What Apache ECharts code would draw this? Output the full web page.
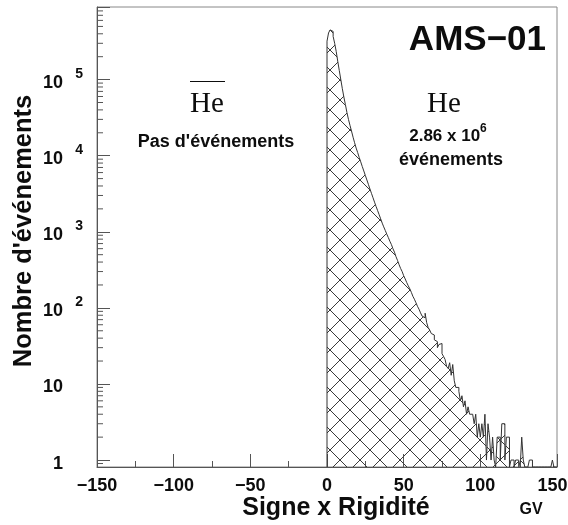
<!DOCTYPE html>
<html><head><meta charset="utf-8">
<script src="https://cdn.jsdelivr.net/npm/echarts@6/dist/echarts.min.js"></script>
<style>html,body{margin:0;padding:0;background:#fff}#c{width:568px;height:525px}</style>
</head><body><div id="c"></div>
<script>
// ---- data ----
const binLow = 0;      // GV, lower edge of the first He bin
const binWidth = 1;    // GV per bin
// He event counts per 1 GV bin, from 0 to 150 GV (0 = empty bin)
const heCounts = [
  320000, 410000, 450000, 430000, 370000, 300000, 235000, 175000, 132000, 100000,
  76000, 59000, 47000, 37000, 30000, 25000, 21000, 17500, 14800, 12600,
  11000, 9500, 8300, 7200, 6300, 5500, 4800, 4200, 3650, 3200,
  2800, 2450, 2150, 1900, 1680, 1480, 1300, 1160, 1040, 930,
  840, 750, 680, 600, 540, 470, 420, 370, 330, 300,
  265, 240, 215, 195, 178, 160, 142, 130, 117, 105,
  96, 86, 78, 74, 85, 64, 55, 51, 46, 44,
  38, 36, 30, 33, 34, 25, 23, 21, 17, 16,
  19, 13, 18, 11, 9, 9, 8, 6, 7, 5,
  6, 4, 5, 4, 4, 4, 3, 4, 2, 3,
  2, 3, 2, 4, 1, 3, 2, 1, 2, 1,
  0, 2, 2, 1, 3, 3, 1, 2, 2, 0,
  1, 1, 0, 1, 1, 1, 0, 2, 1, 0,
  0, 0, 1, 1, 0, 0, 0, 0, 0, 0,
  0, 0, 0, 0, 0, 0, 0, 1, 0, 0
];
// anti-He: no events for negative rigidity
const antiHeCounts = [];
const xTickValues = [-150, -100, -50, 0, 50, 100, 150];
const yMajorExponents = [0, 1, 2, 3, 4, 5];
const titleText = 'AMS\u221201';
const yTitle = "Nombre d'\u00e9v\u00e9nements";
const xTitle = 'Signe x Rigidit\u00e9';
const unitText = 'GV';
const leftLabel = 'He';
const leftNote = "Pas d'\u00e9v\u00e9nements";
const rightLabel = 'He';
const rightNoteMantissa = '2.86 x 10';
const rightNoteExp = '6';
const rightNote2 = '\u00e9v\u00e9nements';

// ---- axis ranges ----
const X_MIN = -150, X_MAX = 150;
const Y_MIN = 0.81, Y_MAX = 9e5;

const SANS = "'Liberation Sans', Arial, Helvetica, sans-serif";
const SERIF = "'Liberation Serif', 'Times New Roman', serif";
const INK = '#0d0d0d';
const AXIS = '#555';

// histogram as step points (empty bins drawn at the axis floor)
const histPoints = [[binLow, Y_MIN]];
heCounts.forEach((c, i) => histPoints.push([binLow + i * binWidth, c > 0 ? c : Y_MIN]));
histPoints.push([binLow + heCounts.length * binWidth, Y_MIN]);

// log minor ticks
const yMinor = [];
for (let k = -1; k <= 6; k++) for (let m = 2; m <= 9; m++) {
  const v = m * Math.pow(10, k);
  if (v > Y_MIN && v < Y_MAX) yMinor.push([X_MIN, v]);
}

function hatchCanvas() {
  const s = 20;
  const c = document.createElement('canvas');
  c.width = s; c.height = s;
  const g = c.getContext('2d');
  g.strokeStyle = '#3a3a3a'; g.lineWidth = 1;
  g.beginPath();
  for (const off of [-s, 0, s]) {
    g.moveTo(off, 0); g.lineTo(off + s, s);
    g.moveTo(off + s, 0); g.lineTo(off, s);
  }
  g.stroke();
  return c;
}

const chart = echarts.init(document.getElementById('c'), null, { renderer: 'canvas' });
chart.setOption({
  animation: false,
  backgroundColor: '#fff',
  grid: { left: 97, right: 11, top: 7, bottom: 58, show: true, borderColor: '#888', borderWidth: 1, outerBoundsMode: 'none', containLabel: false },
  xAxis: {
    type: 'value', min: X_MIN, max: X_MAX, interval: 50,
    axisLine: { onZero: false, lineStyle: { color: AXIS, width: 1 } },
    axisTick: { inside: true, length: 13, lineStyle: { color: AXIS } },
    minorTick: { show: true, splitNumber: 2, length: 6, lineStyle: { color: AXIS } },
    splitLine: { show: false },
    axisLabel: {
      margin: 10, fontSize: 18, fontWeight: 'bold', fontFamily: SANS, color: INK,
      formatter: function (v) {
        if (!xTickValues.includes(v)) return '';
        const t = String(v).replace('-', '\u2212');
        return v === X_MAX ? '{r|' + t + '}' : t;
      },
      rich: { r: { fontSize: 18, fontWeight: 'bold', fontFamily: SANS, color: INK, padding: [0, 9, 0, 0] } }
    }
  },
  yAxis: {
    type: 'log', logBase: 10, min: Y_MIN, max: Y_MAX,
    axisLine: { onZero: false, lineStyle: { color: AXIS, width: 1 } },
    axisTick: { inside: true, length: 13, lineStyle: { color: AXIS } },
    splitLine: { show: false },
    axisLabel: {
      margin: 14, showMinLabel: true, showMaxLabel: true,
      formatter: function (v) {
        const l = Math.log10(v), e = Math.round(l);
        if (Math.abs(l - e) > 1e-6 || !yMajorExponents.includes(e)) return '';
        if (e === 0) return '{b|1}{s| }';
        if (e === 1) return '{b|10}{s| }';
        return '{b|10}{e|' + e + '}';
      },
      rich: {
        b: { fontSize: 18, fontWeight: 'bold', fontFamily: SANS, color: INK, verticalAlign: 'bottom', lineHeight: 25, padding: [0, 0, 0, 0] },
        e: { fontSize: 14, fontWeight: 'bold', fontFamily: SANS, color: INK, width: 20, align: 'right', verticalAlign: 'top', lineHeight: 14, padding: [0, 0, 16, 0] },
        s: { fontSize: 14, width: 20 }
      }
    }
  },
  series: [
    {
      type: 'line', name: 'He', data: histPoints, step: 'end', showSymbol: false, symbol: 'none',
      lineStyle: { color: '#333', width: 1 },
      areaStyle: { origin: 'start', opacity: 1, color: { image: hatchCanvas(), repeat: 'repeat' } },
      clip: true, z: 3
    },
    {
      type: 'custom', name: 'minorTicks', data: yMinor, silent: true, z: 4,
      renderItem: function (params, api) {
        const p = api.coord([api.value(0), api.value(1)]);
        return { type: 'line', shape: { x1: p[0], y1: p[1], x2: p[0] + 6, y2: p[1] }, style: { stroke: AXIS, lineWidth: 1 } };
      }
    }
  ],
  graphic: [
    { type: 'text', x: 546, y: 40, style: { text: titleText, font: 'bold 35px ' + SANS, fill: INK, align: 'right', verticalAlign: 'middle' } },
    { type: 'text', x: 207, y: 104, style: { text: leftLabel, font: '29px ' + SERIF, fill: INK, align: 'center', verticalAlign: 'middle' } },
    { type: 'line', shape: { x1: 190, y1: 81.5, x2: 225, y2: 81.5 }, style: { stroke: INK, lineWidth: 1 } },
    { type: 'text', x: 216, y: 142, style: { text: leftNote, font: 'bold 18px ' + SANS, fill: INK, align: 'center', verticalAlign: 'middle' } },
    { type: 'text', x: 444, y: 104, style: { text: rightLabel, font: '29px ' + SERIF, fill: INK, align: 'center', verticalAlign: 'middle' } },
    { type: 'text', x: 448, y: 134, style: {
        text: '{m|' + rightNoteMantissa + '}{x|' + rightNoteExp + '}', align: 'center', verticalAlign: 'middle',
        rich: { m: { font: 'bold 17px ' + SANS, fill: INK, lineHeight: 22, verticalAlign: 'bottom' },
                x: { font: 'bold 12px ' + SANS, fill: INK, lineHeight: 12, verticalAlign: 'top', padding: [0, 0, 10, 0] } } } },
    { type: 'text', x: 451, y: 160, style: { text: rightNote2, font: 'bold 18px ' + SANS, fill: INK, align: 'center', verticalAlign: 'middle' } },
    { type: 'text', x: 24, y: 231, rotation: Math.PI / 2, style: { text: yTitle, font: 'bold 25.5px ' + SANS, fill: INK, align: 'center', verticalAlign: 'middle' } },
    { type: 'text', x: 336, y: 508, style: { text: xTitle, font: 'bold 25px ' + SANS, fill: INK, align: 'center', verticalAlign: 'middle' } },
    { type: 'text', x: 531, y: 510, style: { text: unitText, font: 'bold 16px ' + SANS, fill: INK, align: 'center', verticalAlign: 'middle' } }
  ]
});
</script>
</body></html>
